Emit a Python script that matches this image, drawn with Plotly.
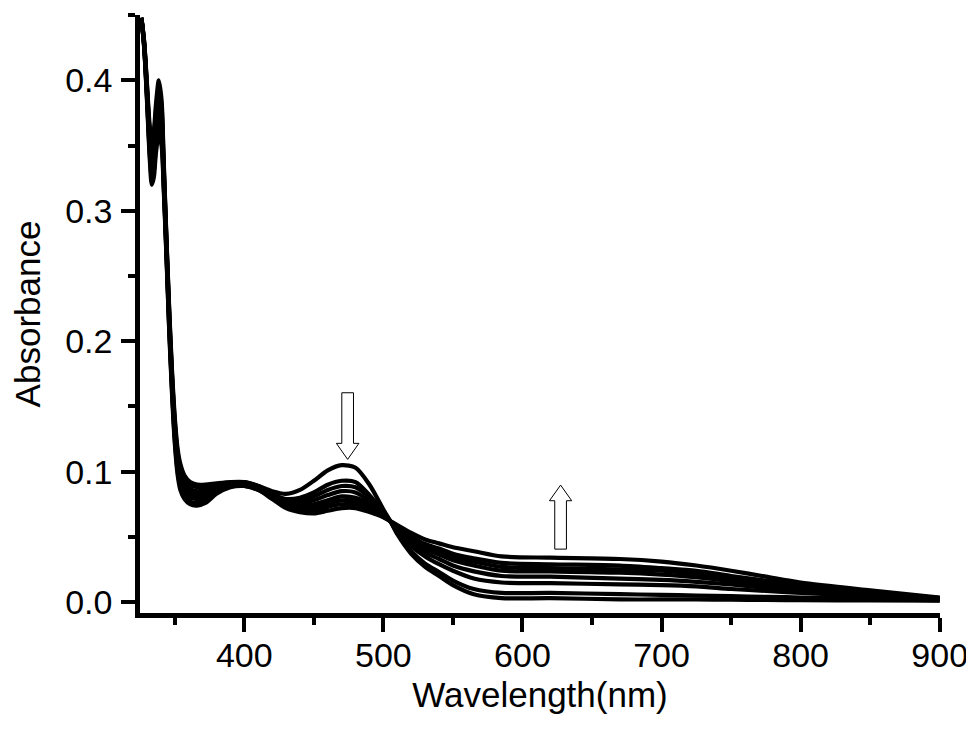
import plotly.graph_objects as go

wavelength = [326, 328, 330, 332, 333.5, 335, 336.5, 338.5, 340.5, 342, 344, 346, 348, 350, 352, 354, 357, 361, 366, 372,
              380, 390, 400, 410, 420, 430, 440, 450, 460, 470, 480, 490, 500, 505, 510, 520, 530, 540, 550, 565,
              585, 620, 670, 700, 725, 750, 775, 800, 850, 900]

c1 = [0.448, 0.430, 0.398, 0.365, 0.355, 0.362, 0.382, 0.400, 0.385, 0.340, 0.280, 0.225, 0.178, 0.142, 0.118, 0.106, 0.097, 0.092, 0.090, 0.090,
      0.091, 0.092, 0.092, 0.089, 0.085, 0.083, 0.086, 0.093, 0.101, 0.105, 0.103, 0.090, 0.071, 0.062, 0.052, 0.037, 0.027, 0.020, 0.013, 0.006,
      0.003, 0.003, 0.002, 0.002, 0.002, 0.0018, 0.0016, 0.0015, 0.0012, 0.001]
c2 = [0.448, 0.429, 0.396, 0.361, 0.350, 0.357, 0.377, 0.394, 0.380, 0.337, 0.278, 0.223, 0.175, 0.139, 0.115, 0.103, 0.094, 0.090, 0.088, 0.088,
      0.090, 0.091, 0.092, 0.089, 0.083, 0.079, 0.080, 0.084, 0.090, 0.093, 0.092, 0.082, 0.069, 0.062, 0.053, 0.039, 0.0295, 0.023, 0.0165, 0.010,
      0.007, 0.007, 0.006, 0.0055, 0.005, 0.0045, 0.004, 0.0035, 0.0025, 0.0013]
c3 = [0.448, 0.429, 0.394, 0.358, 0.345, 0.352, 0.371, 0.388, 0.375, 0.334, 0.276, 0.220, 0.173, 0.136, 0.112, 0.100, 0.092, 0.087, 0.085, 0.086,
      0.089, 0.091, 0.091, 0.088, 0.082, 0.078, 0.078, 0.081, 0.086, 0.089, 0.088, 0.080, 0.068, 0.062, 0.055, 0.043, 0.035, 0.029, 0.024, 0.018,
      0.015, 0.0145, 0.0135, 0.013, 0.012, 0.010, 0.0085, 0.007, 0.0045, 0.002]
c4 = [0.448, 0.428, 0.392, 0.354, 0.340, 0.347, 0.366, 0.382, 0.370, 0.331, 0.274, 0.218, 0.170, 0.133, 0.109, 0.097, 0.089, 0.085, 0.083, 0.084,
      0.088, 0.090, 0.091, 0.088, 0.081, 0.076, 0.076, 0.078, 0.082, 0.085, 0.084, 0.077, 0.067, 0.062, 0.056, 0.0455, 0.038, 0.033, 0.028, 0.0235,
      0.020, 0.0195, 0.018, 0.017, 0.0155, 0.0135, 0.011, 0.009, 0.0055, 0.0023]
c5 = [0.448, 0.427, 0.391, 0.351, 0.335, 0.341, 0.361, 0.376, 0.365, 0.327, 0.271, 0.215, 0.168, 0.131, 0.107, 0.095, 0.087, 0.082, 0.081, 0.082,
      0.086, 0.090, 0.090, 0.087, 0.081, 0.075, 0.074, 0.075, 0.078, 0.081, 0.080, 0.075, 0.067, 0.062, 0.057, 0.0475, 0.041, 0.0365, 0.032, 0.028,
      0.024, 0.0235, 0.0225, 0.021, 0.019, 0.016, 0.013, 0.0105, 0.0065, 0.0027]
c6 = [0.448, 0.426, 0.389, 0.347, 0.330, 0.336, 0.356, 0.370, 0.360, 0.324, 0.269, 0.213, 0.165, 0.128, 0.104, 0.092, 0.084, 0.080, 0.079, 0.080,
      0.085, 0.089, 0.090, 0.087, 0.080, 0.074, 0.072, 0.0725, 0.0755, 0.078, 0.0775, 0.0725, 0.066, 0.062, 0.057, 0.049, 0.043, 0.039, 0.035, 0.031,
      0.027, 0.026, 0.025, 0.024, 0.0215, 0.018, 0.015, 0.0115, 0.007, 0.003]
c7 = [0.448, 0.426, 0.387, 0.344, 0.325, 0.331, 0.350, 0.364, 0.355, 0.321, 0.267, 0.210, 0.163, 0.125, 0.101, 0.089, 0.082, 0.077, 0.076, 0.078,
      0.084, 0.089, 0.089, 0.086, 0.080, 0.073, 0.0705, 0.070, 0.073, 0.075, 0.075, 0.071, 0.0655, 0.062, 0.058, 0.0505, 0.0445, 0.041, 0.037, 0.0335,
      0.030, 0.029, 0.028, 0.026, 0.024, 0.020, 0.0165, 0.013, 0.008, 0.0031]
c8 = [0.448, 0.425, 0.385, 0.340, 0.320, 0.326, 0.345, 0.358, 0.350, 0.318, 0.265, 0.208, 0.160, 0.122, 0.098, 0.086, 0.079, 0.075, 0.074, 0.076,
      0.083, 0.088, 0.089, 0.086, 0.079, 0.072, 0.069, 0.068, 0.070, 0.072, 0.072, 0.069, 0.065, 0.062, 0.059, 0.053, 0.048, 0.045, 0.042, 0.039,
      0.035, 0.034, 0.033, 0.031, 0.028, 0.024, 0.0195, 0.015, 0.009, 0.0035]

spectra = [c1, c2, c3, c4, c5, c6, c7, c8]

x_tick_values = [400, 500, 600, 700, 800, 900]
y_tick_values = [0.0, 0.1, 0.2, 0.3, 0.4]

FONT = "Liberation Sans, Arial, sans-serif"

fig = go.Figure()
for s in spectra:
    fig.add_trace(go.Scatter(x=wavelength, y=s, mode="lines",
                             line=dict(color="black", width=4.2, shape="spline", smoothing=0.8),
                             showlegend=False, hoverinfo="skip"))

def block_arrow(xc, y_tail, y_base, y_tip, shaft_half, head_half):
    return (f"M {xc-shaft_half},{y_tail} L {xc+shaft_half},{y_tail} L {xc+shaft_half},{y_base} "
            f"L {xc+head_half},{y_base} L {xc},{y_tip} L {xc-head_half},{y_base} "
            f"L {xc-shaft_half},{y_base} Z")

fig.add_shape(type="path", xref="x", yref="y",
              path=block_arrow(474.3, 0.1605, 0.1217, 0.1094, 4.2, 8.1),
              line=dict(color="black", width=1), fillcolor="white", layer="above")
fig.add_shape(type="path", xref="x", yref="y",
              path=block_arrow(627.4, 0.0406, 0.0777, 0.0897, 4.2, 8.0),
              line=dict(color="black", width=1), fillcolor="white", layer="above")

# the page adds an 8px body margin, so the plot area is offset to land where the reference has it
fig.update_layout(
    width=966, height=733,
    margin=dict(l=132, r=34, t=7, b=128),
    paper_bgcolor="white", plot_bgcolor="white",
    font=dict(family=FONT, size=34, color="black"),
    showlegend=False,
)
fig.update_xaxes(
    range=[325, 900.2], showgrid=False, zeroline=False, automargin=False,
    showline=True, linecolor="black", linewidth=4.5,
    ticks="outside", ticklen=14, tickwidth=4, tickcolor="black",
    tickvals=x_tick_values, ticklabelstandoff=-6, ticklabeloverflow="allow",
    minor=dict(ticks="outside", ticklen=7, tickwidth=4, tickcolor="black", dtick=50, tick0=0, showgrid=False),
    title=dict(text="Wavelength(nm)", font=dict(size=35), standoff=11),
    tickfont=dict(size=34),
)
fig.update_yaxes(
    range=[-0.0084, 0.4502], showgrid=False, zeroline=False, automargin=False,
    showline=True, linecolor="black", linewidth=4.5,
    ticks="outside", ticklen=14, tickwidth=4, tickcolor="black",
    tickvals=y_tick_values, tickformat=".1f", ticklabelstandoff=2,
    minor=dict(ticks="outside", ticklen=7, tickwidth=4, tickcolor="black", dtick=0.05, tick0=0, showgrid=False),
    title=dict(text="Absorbance", font=dict(size=35), standoff=17),
    tickfont=dict(size=34),
)

fig.write_html("out.html")
